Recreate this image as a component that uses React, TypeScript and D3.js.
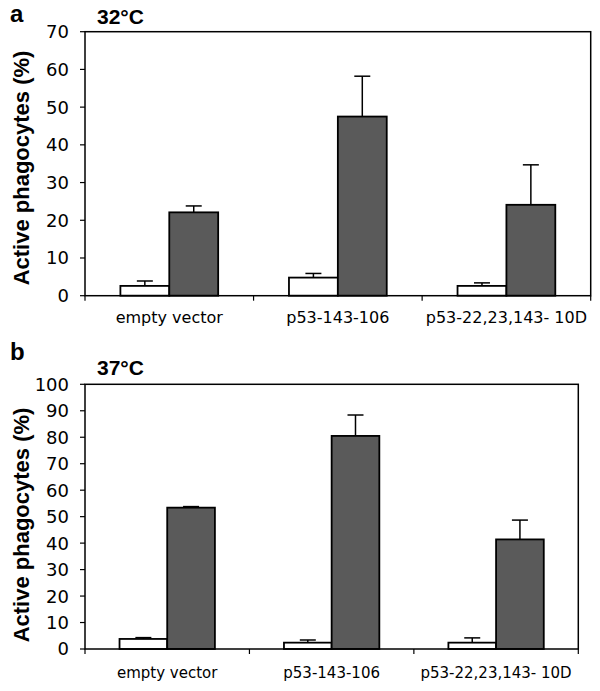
import React from "react";
import * as d3 from "d3";

const categories = ["empty vector", "p53-143-106", "p53-22,23,143- 10D"];

// Panel a (32°C)
const aTicks = [0, 10, 20, 30, 40, 50, 60, 70];
const aWhite = [2.6, 4.8, 2.6];
const aWhiteErr = [1.3, 1.1, 0.8];
const aDark = [22.1, 47.5, 24.1];
const aDarkErr = [1.7, 10.7, 10.6];

// Panel b (37°C)
const bTicks = [0, 10, 20, 30, 40, 50, 60, 70, 80, 90, 100];
const bWhite = [3.8, 2.4, 2.4];
const bWhiteErr = [0.5, 1.0, 1.8];
const bDark = [53.4, 80.5, 41.4];
const bDarkErr = [0.4, 7.9, 7.3];

const DARK = "#5a5a5a";
const TICK_FONT = "'DejaVu Sans', Verdana, sans-serif";
const BOLD_FONT = "'Liberation Sans', Arial, Helvetica, sans-serif";

type PanelProps = {
  letter: string;
  title: string;
  letterY: number;
  titleY: number;
  left: number;
  right: number;
  top: number;
  bottom: number;
  yMax: number;
  ticks: number[];
  white: number[];
  whiteErr: number[];
  dark: number[];
  darkErr: number[];
  labelY: number;
  yLabelCenter: number;
  xFont: number;
};

function Panel(p: PanelProps) {
  const x = d3.scaleBand<string>().domain(categories).range([p.left, p.right]).paddingInner(0).paddingOuter(0);
  const y = d3.scaleLinear().domain([0, p.yMax]).range([p.bottom, p.top]);
  const bw = x.bandwidth() * 0.29;
  const cap = 8;
  const boundaries = [p.left, ...categories.map((c) => (x(c) as number) + x.bandwidth())];

  const series = [
    { vals: p.white, errs: p.whiteErr, fill: "#ffffff", off: -bw },
    { vals: p.dark, errs: p.darkErr, fill: DARK, off: 0 },
  ];

  return (
    <g>
      <text x={10} y={p.letterY} fontFamily={BOLD_FONT} fontWeight="bold" fontSize={24}>
        {p.letter}
      </text>
      <text x={97} y={p.titleY} fontFamily={BOLD_FONT} fontWeight="bold" fontSize={21}>
        {p.title}
      </text>
      {/* y label */}
      <text
        transform={`translate(29,${p.yLabelCenter}) rotate(-90)`}
        textAnchor="middle"
        fontFamily={BOLD_FONT}
        fontWeight="bold"
        fontSize={22}
      >
        Active phagocytes (%)
      </text>
      {/* y ticks */}
      {p.ticks.map((t) => (
        <g key={t}>
          <line x1={p.left - 5} x2={p.left} y1={y(t)} y2={y(t)} stroke="#000" strokeWidth={1.2} />
          <text
            x={p.left - 16}
            y={y(t)}
            dy="0.36em"
            textAnchor="end"
            fontFamily={TICK_FONT}
            fontSize={18}
          >
            {t}
          </text>
        </g>
      ))}
      {/* x ticks */}
      {boundaries.map((b, i) => (
        <line key={i} x1={b} x2={b} y1={p.bottom} y2={p.bottom + 5} stroke="#000" strokeWidth={1.2} />
      ))}
      {/* bars */}
      {series.map((s, si) =>
        categories.map((c, i) => {
          const cx = (x(c) as number) + x.bandwidth() / 2 + s.off;
          const yTop = y(s.vals[i]);
          const yErr = y(s.vals[i] + s.errs[i]);
          const mid = cx + bw / 2;
          return (
            <g key={`${si}-${i}`}>
              <line x1={mid} x2={mid} y1={yTop} y2={yErr} stroke="#000" strokeWidth={1.5} />
              <line x1={mid - cap} x2={mid + cap} y1={yErr} y2={yErr} stroke="#000" strokeWidth={1.5} />
              <rect
                x={cx}
                y={yTop}
                width={bw}
                height={p.bottom - yTop}
                fill={s.fill}
                stroke="#000"
                strokeWidth={1.8}
              />
            </g>
          );
        })
      )}
      {/* frame */}
      <rect
        x={p.left}
        y={p.top}
        width={p.right - p.left}
        height={p.bottom - p.top}
        fill="none"
        stroke="#000"
        strokeWidth={1.5}
      />
      {/* x labels */}
      {categories.map((c) => (
        <text
          key={c}
          x={(x(c) as number) + x.bandwidth() / 2}
          y={p.labelY}
          textAnchor="middle"
          fontFamily={TICK_FONT}
          fontSize={p.xFont}
        >
          {c}
        </text>
      ))}
    </g>
  );
}

export default function App() {
  return (
    <svg
      width={600}
      height={691}
      style={{ position: "absolute", left: 0, top: 0, background: "#fff" }}
    >
      <rect width={600} height={691} fill="#fff" />
      <Panel
        letter="a"
        title="32°C"
        letterY={22}
        titleY={24}
        left={85}
        right={590.7}
        top={31.7}
        bottom={295.7}
        yMax={70}
        ticks={aTicks}
        white={aWhite}
        whiteErr={aWhiteErr}
        dark={aDark}
        darkErr={aDarkErr}
        labelY={323}
        yLabelCenter={168}
        xFont={16}
      />
      <Panel
        letter="b"
        title="37°C"
        letterY={360}
        titleY={375}
        left={85}
        right={578.3}
        top={384.3}
        bottom={649}
        yMax={100}
        ticks={bTicks}
        white={bWhite}
        whiteErr={bWhiteErr}
        dark={bDark}
        darkErr={bDarkErr}
        labelY={678}
        yLabelCenter={525}
        xFont={15}
      />
    </svg>
  );
}
